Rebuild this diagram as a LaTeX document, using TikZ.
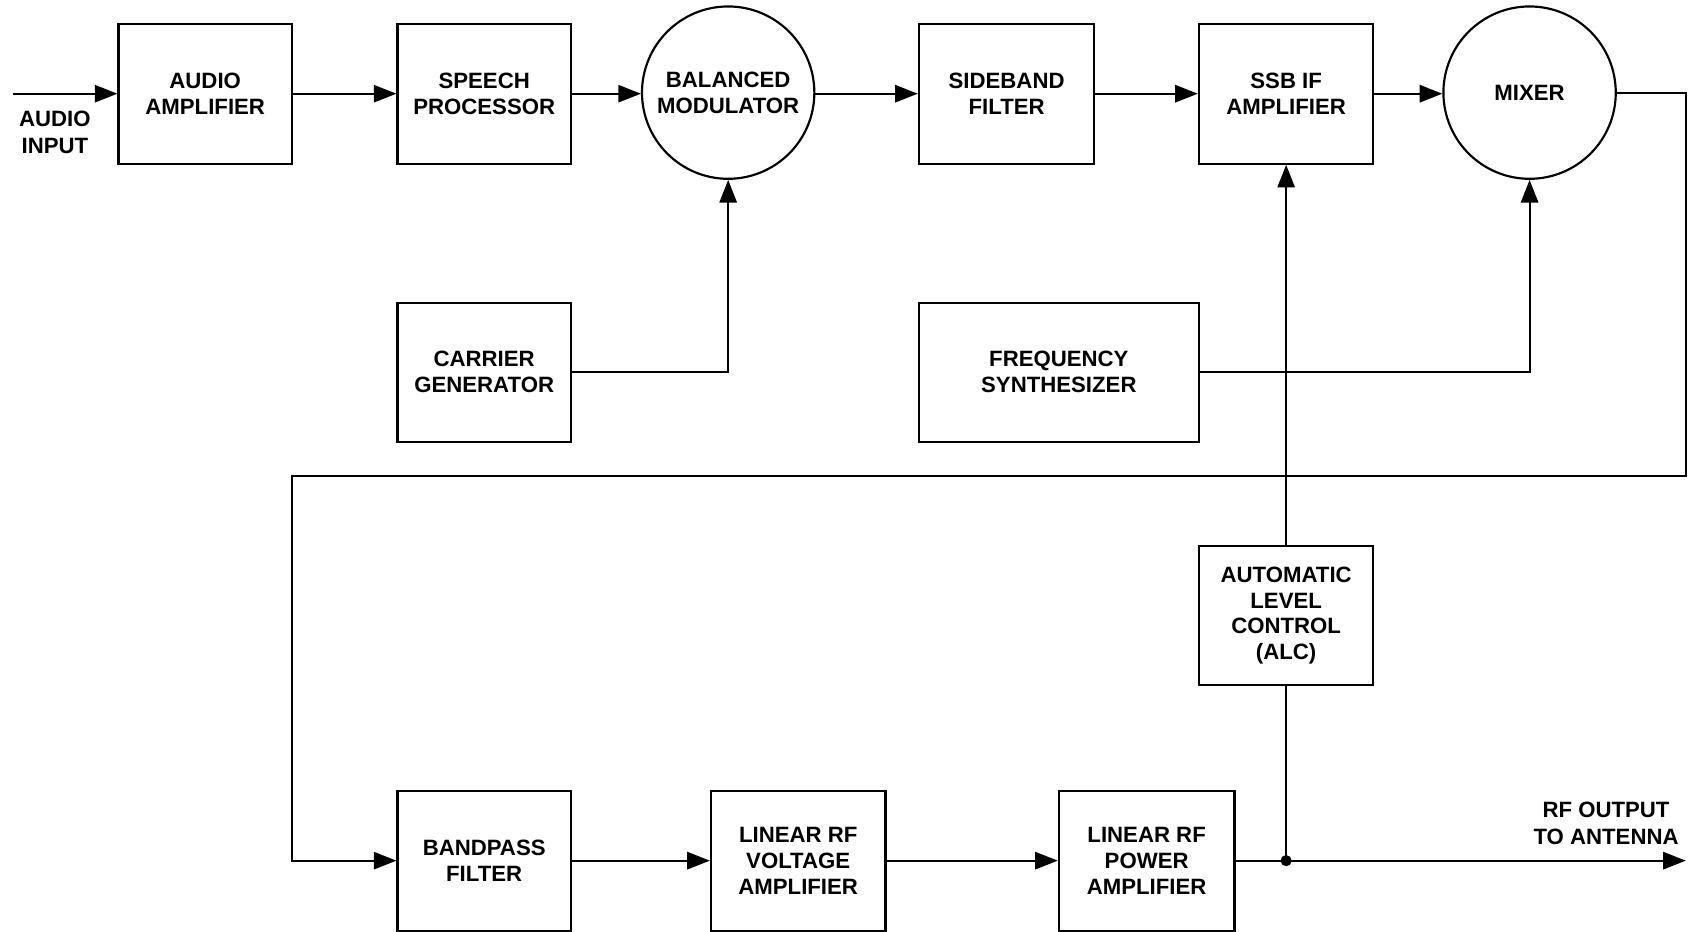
\documentclass[tikz,border=0pt]{standalone}
\usepackage{fontspec}
\setmainfont{Liberation Sans}
\usetikzlibrary{arrows.meta}
\newfontfamily\lblfont{Liberation Sans}
\begin{document}
\begin{tikzpicture}[x=0.5pt,y=-0.5pt,
  txt/.style={font=\lblfont\bfseries\fontsize{10.3}{12}\selectfont},
  blk/.style={draw, line width=1pt, minimum width=80.5pt, minimum height=65pt, inner sep=0pt, align=center, txt},
  circ/.style={draw, circle, line width=1pt, minimum size=80pt, inner sep=0pt, align=center, txt},
  lbl/.style={inner sep=0pt, align=center, font=\lblfont\bfseries\fontsize{10.3}{12.5}\selectfont},
  conn/.style={line width=1pt, -{Triangle[length=10.5pt,width=8pt]}},
  wire/.style={line width=1pt}]
\useasboundingbox (0,0) rectangle (1568,865);
% top row
\node[blk] (amp) at (190.5,87) {AUDIO\\AMPLIFIER};
\node[blk] (sp) at (449.5,87) {SPEECH\\PROCESSOR};
\node[circ] (bm) at (676,86) {BALANCED\\MODULATOR};
\node[blk, minimum width=81.5pt] (sb) at (934.5,87) {SIDEBAND\\FILTER};
\node[blk, minimum width=81pt] (ssb) at (1194,87) {SSB IF\\AMPLIFIER};
\node[circ] (mix) at (1420,86) {MIXER};
% middle row
\node[blk, minimum height=64.5pt] (cg) at (449.5,345.5) {CARRIER\\GENERATOR};
\node[blk, minimum width=130pt, minimum height=64.5pt] (fs) at (983,345.5) {FREQUENCY\\SYNTHESIZER};
\node[blk, minimum width=81pt, minimum height=64.5pt] (alc) at (1194,571.5) {AUTOMATIC\\LEVEL\\CONTROL\\(ALC)};
% bottom row
\node[blk] (bp) at (449.5,799) {BANDPASS\\FILTER};
\node[blk, minimum width=81pt] (lv) at (741,799) {LINEAR RF\\VOLTAGE\\AMPLIFIER};
\node[blk, minimum width=81.5pt] (lp) at (1064.5,799) {LINEAR RF\\POWER\\AMPLIFIER};
% labels
\node[lbl] (inlbl) at (51,123) {AUDIO\\INPUT};
\node[lbl] (outlbl) at (1491,764) {RF OUTPUT\\TO ANTENNA};
% coordinates
\coordinate (in) at (12,87);
\coordinate (out) at (1565,799);
\coordinate (ret) at (271,442);
\coordinate (j) at (alc.south |- lp.east);
% connectors
\draw[conn] (in) -- (amp.west);
\draw[conn] (amp.east) -- (sp.west);
\draw[conn] (sp.east) -- (bm.west |- sp.east);
\draw[conn] (bm.east |- sb.west) -- (sb.west);
\draw[conn] (sb.east) -- (ssb.west);
\draw[conn] (ssb.east) -- (mix.west |- ssb.east);
\draw[conn] (cg.east) -| (bm.south);
\draw[conn] (fs.east) -| (mix.south);
\draw[conn] (alc.north) -- (ssb.south);
\draw[conn] (mix.east) -- ++(64,0) |- (ret) |- (bp.west);
\draw[conn] (bp.east) -- (lv.west);
\draw[conn] (lv.east) -- (lp.west);
\draw[conn] (lp.east) -- (out);
\draw[wire] (alc.south) -- (j);
\fill (j) circle (2.6pt);
\end{tikzpicture}
\end{document}
